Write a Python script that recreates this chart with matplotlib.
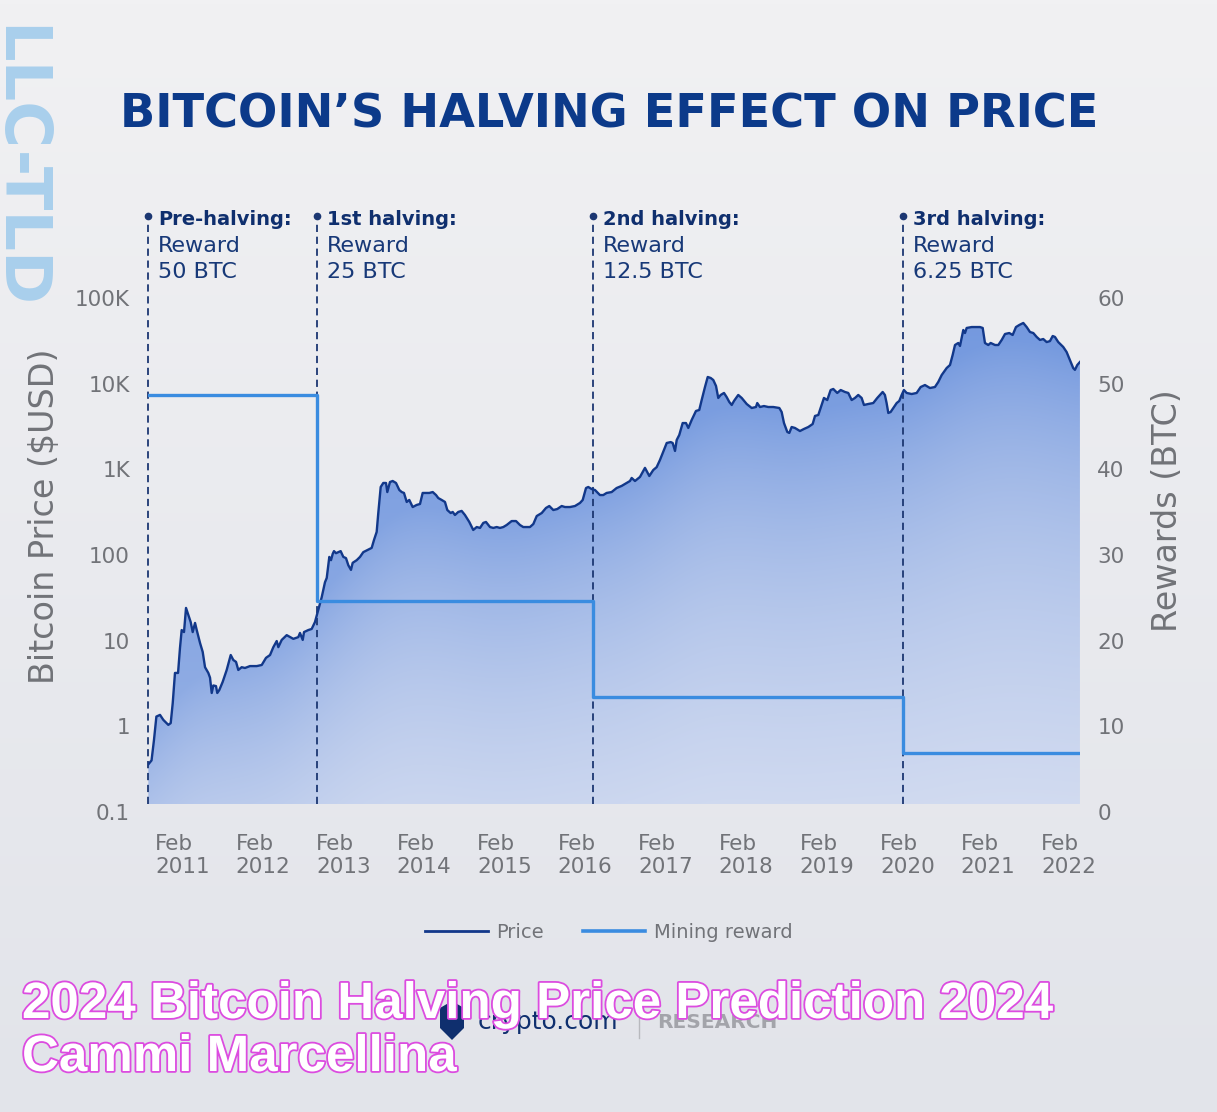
import numpy as np
import matplotlib
matplotlib.use("Agg")
import matplotlib.pyplot as plt
from matplotlib import transforms
from matplotlib.patches import Polygon
from matplotlib.lines import Line2D
from matplotlib.ticker import NullLocator
import matplotlib.patheffects as pe

# ---------------- data ----------------
price_dates = [
    2011.000, 2011.040, 2011.070, 2011.100, 2011.145, 2011.186, 2011.248, 2011.278, 2011.303, 2011.331,
    2011.369, 2011.393, 2011.414, 2011.443, 2011.468, 2011.496, 2011.526, 2011.551, 2011.580, 2011.601,
    2011.642, 2011.675, 2011.704, 2011.745, 2011.766, 2011.787, 2011.807, 2011.840, 2011.856, 2011.881,
    2011.923, 2011.973, 2012.023, 2012.055, 2012.089, 2012.117, 2012.159, 2012.200, 2012.262, 2012.346,
    2012.408, 2012.461, 2012.511, 2012.552, 2012.594, 2012.614, 2012.656, 2012.718, 2012.800, 2012.862,
    2012.883, 2012.917, 2012.933, 2012.986, 2013.028, 2013.069, 2013.110, 2013.152, 2013.193, 2013.215,
    2013.247, 2013.268, 2013.289, 2013.305, 2013.330, 2013.359, 2013.388, 2013.421, 2013.454, 2013.483,
    2013.516, 2013.537, 2013.587, 2013.628, 2013.669, 2013.719, 2013.773, 2013.802, 2013.835, 2013.855,
    2013.885, 2013.917, 2013.951, 2013.967, 2014.000, 2014.034, 2014.075, 2014.116, 2014.146, 2014.174,
    2014.208, 2014.240, 2014.282, 2014.332, 2014.373, 2014.406, 2014.456, 2014.488, 2014.531, 2014.572,
    2014.600, 2014.642, 2014.683, 2014.712, 2014.754, 2014.779, 2014.807, 2014.848, 2014.890, 2014.931,
    2014.985, 2015.034, 2015.077, 2015.118, 2015.159, 2015.192, 2015.242, 2015.283, 2015.325, 2015.366,
    2015.407, 2015.449, 2015.511, 2015.565, 2015.614, 2015.655, 2015.738, 2015.780, 2015.822, 2015.884,
    2015.937, 2015.978, 2016.028, 2016.077, 2016.132, 2016.173, 2016.235, 2016.297, 2016.359, 2016.393,
    2016.434, 2016.462, 2016.504, 2016.545, 2016.607, 2016.648, 2016.690, 2016.752, 2016.814, 2016.876,
    2016.939, 2016.980, 2017.001, 2017.042, 2017.104, 2017.166, 2017.220, 2017.269, 2017.311, 2017.352,
    2017.402, 2017.436, 2017.485, 2017.510, 2017.539, 2017.560, 2017.592, 2017.634, 2017.675, 2017.704,
    2017.746, 2017.799, 2017.840, 2017.870, 2017.911, 2017.945, 2017.982, 2018.014, 2018.048, 2018.076,
    2018.106, 2018.147, 2018.180, 2018.213, 2018.243, 2018.271, 2018.324, 2018.367, 2018.429, 2018.491,
    2018.544, 2018.560, 2018.594, 2018.643, 2018.697, 2018.759, 2018.834, 2018.863, 2018.892, 2018.933,
    2018.958, 2018.987, 2019.028, 2019.090, 2019.140, 2019.194, 2019.248, 2019.277, 2019.318, 2019.360,
    2019.388, 2019.429, 2019.471, 2019.504, 2019.553, 2019.596, 2019.649, 2019.690, 2019.732, 2019.773,
    2019.814, 2019.856, 2019.885, 2019.938, 2020.000, 2020.050, 2020.083, 2020.117, 2020.145, 2020.166,
    2020.187, 2020.216, 2020.249, 2020.291, 2020.323, 2020.353, 2020.381, 2020.415, 2020.477, 2020.539,
    2020.589, 2020.642, 2020.704, 2020.766, 2020.807, 2020.850, 2020.912, 2020.953, 2020.986, 2021.015,
    2021.056, 2021.077, 2021.118, 2021.139, 2021.160, 2021.222, 2021.284, 2021.325, 2021.359, 2021.387,
    2021.428, 2021.458, 2021.512, 2021.553, 2021.595, 2021.636, 2021.689, 2021.731, 2021.772, 2021.813,
    2021.863, 2021.905, 2021.946, 2021.987, 2022.029, 2022.070, 2022.111, 2022.153, 2022.194, 2022.228,
    2022.256, 2022.297, 2022.359, 2022.401, 2022.442, 2022.483, 2022.504, 2022.533, 2022.566,
]
price_usd = [
    0.36, 0.40, 0.69, 1.30, 1.36, 1.19, 1.04, 1.09, 1.87, 4.2,
    4.2, 8.2, 13.3, 12.6, 24.1, 20.0, 16.5, 12.6, 16.1, 13.3,
    9.4, 7.4, 4.9, 4.2, 3.7, 2.45, 3.0, 2.95, 2.45, 2.65,
    3.3, 4.55, 6.8, 5.95, 5.65, 4.55, 4.9, 4.8, 5.05, 5.05,
    5.2, 6.3, 6.8, 8.4, 9.9, 8.4, 10.2, 11.6, 10.5, 11.0,
    12.3, 10.2, 12.6, 13.3, 13.7, 16.5, 22.8, 32, 48, 54,
    95, 87, 103, 111, 105, 108, 111, 95, 92, 76,
    67, 81, 87, 95, 108, 114, 121, 150, 186, 309,
    622, 693, 693, 543, 711, 731, 693, 574, 543, 530,
    416, 439, 363, 384, 394, 530, 530, 530, 543, 501,
    462, 439, 416, 335, 309, 318, 293, 318, 327, 293,
    243, 196, 212, 207, 237, 243, 212, 207, 212, 207,
    212, 224, 249, 249, 224, 212, 212, 230, 285, 309,
    354, 373, 335, 344, 373, 363, 363, 373, 405, 439,
    605, 622, 589, 574, 501, 501, 530, 543, 605, 640,
    693, 731, 793, 731, 815, 1040, 836, 982, 1060, 1285,
    1680, 2030, 2080, 2030, 1640, 2200, 2520, 3470, 3470, 3040,
    3770, 4800, 4930, 6440, 9140, 11970, 11650, 11040, 9400, 6810,
    7380, 7790, 6980, 6110, 5640, 6280, 7380, 6810, 5790, 5200,
    5340, 5940, 5340, 5480, 5340, 5340, 5200, 4670, 3470, 2730,
    2660, 3120, 3040, 2800, 2960, 3120, 3380, 4200, 4310, 5640,
    6810, 6440, 8430, 8670, 7790, 8430, 8000, 7790, 6440, 6810,
    7380, 6810, 5640, 5790, 5940, 6810, 7380, 8000, 7380, 5940,
    4550, 4670, 5200, 5940, 6280, 7380, 8430, 7790, 7570, 7790,
    9140, 9640, 8900, 9140, 10450, 12620, 15240, 16520, 21630, 28270,
    29850, 27540, 42300, 39000, 44700, 45800, 45800, 45800, 44700, 29850,
    28270, 29850, 28270, 28270, 32400, 38000, 39000, 37000, 45800, 48400,
    51100, 45800, 40100, 39000, 35100, 32400, 33200, 30600, 31400, 36000,
    35100, 30600, 26800, 23400, 18900, 15200, 14500, 16500, 17900,
]

halving_dates = [2011.0, 2013.094, 2016.521, 2020.369]
reward_btc = [48.7, 24.6, 13.4, 6.9]
halving_titles = ["Pre-halving:", "1st halving:", "2nd halving:", "3rd halving:"]
halving_rewards = ["50 BTC", "25 BTC", "12.5 BTC", "6.25 BTC"]

tick_years = list(range(2011, 2023))
price_ticks = [0.1, 1, 10, 100, 1000, 10000, 100000]
price_tick_labels = ["0.1", "1", "10", "100", "1K", "10K", "100K"]
reward_ticks = [0, 10, 20, 30, 40, 50, 60]

# ---------------- style ----------------
W, H = 1217, 1112
NAVY = "#12388a"
REWARD = "#3a8ce0"
GRAY = "#717378"
TXT_NAVY = "#0f2f6e"
plt.rcParams["font.family"] = ["DejaVu Sans"]

fig = plt.figure(figsize=(W / 100, H / 100), dpi=100)

# figure background gradient
bg = fig.add_axes([0, 0, 1, 1], zorder=-10)
gv = np.linspace(0, 1, 256)[:, None, None]
top_c = np.array([241, 241, 243]) / 255
bot_c = np.array([226, 228, 234]) / 255
bg.imshow(top_c + (bot_c - top_c) * gv * np.ones((1, 2, 1)), aspect="auto",
          extent=[0, 1, 0, 1], origin="upper")
bg.set_axis_off()

ax = fig.add_axes([148 / W, 1 - 812 / H, (1080 - 148) / W, (812 - 298) / H])
ax.set_facecolor("none")
XMIN, XMAX = 2010.996, 2022.567
YMIN, YMAX = 0.1, 1e5
BASE = 0.124

# gradient fill under the price curve (darker close to the curve, smoothed)
nu, nv = 400, 300
u = np.linspace(0, 1, nu)
v = np.linspace(0, 1, nv)[:, None]
ud = (np.array(price_dates) - XMIN) / (XMAX - XMIN)
vd = (np.log10(price_usd) - np.log10(YMIN)) / (np.log10(YMAX) - np.log10(YMIN))
vline = np.interp(u, ud, vd)
k = np.exp(-0.5 * (np.arange(-45, 46) / 15.0) ** 2)
k /= k.sum()
vpad = np.concatenate([np.full(45, vline[0]), vline, np.full(45, vline[-1])])
vs = np.convolve(vpad, k, mode="valid")[None, :]
d = np.clip(0.35 * v + 0.62 * np.exp(-np.clip(vs - v, 0, None) / 0.33), 0, 1)
light = np.array([214, 222, 241]) / 255
dark = np.array([112, 150, 222]) / 255
rgb = light + (dark - light) * d[..., None]
im = ax.imshow(rgb, extent=[0, 1, 0, 1], transform=ax.transAxes, aspect="auto",
               origin="lower", zorder=1, interpolation="bilinear")

ax.set_yscale("log")
ax.set_xlim(XMIN, XMAX)
ax.set_ylim(YMIN, YMAX)
ax.set_autoscale_on(False)

verts = list(zip(price_dates, price_usd)) + [(price_dates[-1], BASE), (price_dates[0], BASE)]
clip_poly = Polygon(verts, closed=True, transform=ax.transData, facecolor="none", edgecolor="none")
im.set_clip_path(clip_poly)

ax.plot(price_dates, price_usd, color=NAVY, lw=1.7, zorder=4, solid_joinstyle="round")

# halving markers
blend = transforms.blended_transform_factory(ax.transData, ax.transAxes)
for dte, title, rew in zip(halving_dates, halving_titles, halving_rewards):
    ax.plot([dte, dte], [0.0156, 1.150], transform=blend, clip_on=False,
            color="#1c3772", lw=1.3, dashes=(4, 2.6), zorder=3)
    ax.plot([dte], [1.1595], "o", ms=4.5, color="#1c3772", transform=blend, clip_on=False, zorder=3)
    ax.annotate(title, xy=(dte, (812 - 225) / 514), xycoords=blend, xytext=(7.5, 0),
                textcoords="offset points", ha="left", va="baseline", fontsize=14,
                fontweight="bold", color=TXT_NAVY, annotation_clip=False)
    ax.annotate("Reward", xy=(dte, (812 - 251.7) / 514), xycoords=blend, xytext=(7, 0),
                textcoords="offset points", ha="left", va="baseline", fontsize=16,
                color="#183978", annotation_clip=False)
    ax.annotate(rew, xy=(dte, (812 - 278.3) / 514), xycoords=blend, xytext=(7, 0),
                textcoords="offset points", ha="left", va="baseline", fontsize=16,
                color="#183978", annotation_clip=False)

# axes styling
ax.set_xticks([y + 1 / 12 for y in tick_years])
ax.set_xticklabels([f"Feb\n{y}" for y in tick_years])
for lbl in ax.get_xticklabels():
    lbl.set_ha("left")
    lbl.set_multialignment("left")
ax.tick_params(axis="x", length=0, pad=16, labelsize=15.5, labelcolor=GRAY)
ax.set_yticks(price_ticks)
ax.set_yticklabels(price_tick_labels)
ax.yaxis.set_minor_locator(NullLocator())
ax.tick_params(axis="y", which="both", length=0, pad=13, labelsize=15.5, labelcolor=GRAY)
for s in ax.spines.values():
    s.set_visible(False)
ax.set_ylabel("Bitcoin Price ($USD)", fontsize=24, color=GRAY)
ax.yaxis.set_label_coords((45 - 148) / 932, (812 - 516) / 514)
ax.yaxis.label.set_va("center")

ax2 = ax.twinx()
ax2.set_facecolor("none")
ax2.step(halving_dates + [price_dates[-1]], reward_btc + [reward_btc[-1]], where="post",
         color=REWARD, lw=2.4, zorder=5)
ax2.set_ylim(0, 60)
ax2.set_yticks(reward_ticks)
ax2.tick_params(axis="y", length=0, pad=12.5, labelsize=15.5, labelcolor=GRAY)
for s in ax2.spines.values():
    s.set_visible(False)
ax2.set_ylabel("Rewards (BTC)", fontsize=24, color=GRAY)
ax2.yaxis.set_label_coords((1168 - 148) / 932, (812 - 511) / 514)
ax2.yaxis.label.set_va("center")
ax2.set_xlim(XMIN, XMAX)

# title
fig.text(609 / W, 1 - 127 / H, "BITCOIN\u2019S HALVING EFFECT ON PRICE", ha="center",
         va="baseline", fontsize=33.3, fontweight="bold", color="#0c3a8a")

# legend
handles = [Line2D([], [], color=NAVY, lw=2), Line2D([], [], color=REWARD, lw=2.6)]
fig.legend(handles, ["Price", "Mining reward"], loc="center", bbox_to_anchor=(609 / W, 1 - 932 / H),
           ncol=2, frameon=False, fontsize=14, handlelength=3.2, handletextpad=0.45,
           columnspacing=2.0, labelcolor=GRAY)

# watermark
fig.text(48 / W, 1 - 25 / H, "LLC-TLD", rotation=-90, ha="right", va="top", fontsize=46,
         fontweight="bold", color="#a9cfec")

# crypto.com logo
shield = Polygon([(440 / W, 1 - 1008 / H), (452 / W, 1 - 1001 / H), (464 / W, 1 - 1008 / H),
                  (464 / W, 1 - 1028 / H), (452 / W, 1 - 1040 / H), (440 / W, 1 - 1028 / H)],
                 closed=True, transform=fig.transFigure, facecolor="#0f2f6e", edgecolor="none")
fig.add_artist(shield)
fig.text(478 / W, 1 - 1022 / H, "crypto.com", ha="left", va="center", fontsize=18, color="#0f2f6e")
fig.add_artist(Line2D([639 / W, 639 / W], [1 - 1001 / H, 1 - 1038 / H], transform=fig.transFigure,
                      color="#b8b9be", lw=1))
fig.text(657 / W, 1 - 1022 / H, "RESEARCH", ha="left", va="center", fontsize=14.5,
         fontweight="bold", color="#a3a4aa")

# overlay caption
outline = [pe.Stroke(linewidth=2.6, foreground="#dc4ce0"), pe.Normal()]
fig.text(22 / W, 1 - 1018 / H, "2024 Bitcoin Halving Price Prediction 2024", ha="left",
         va="baseline", fontsize=36.8, fontweight="bold", family=["Liberation Sans"],
         color="white", path_effects=outline)
fig.text(22 / W, 1 - 1071 / H, "Cammi Marcellina", ha="left", va="baseline", fontsize=36.8,
         fontweight="bold", family=["Liberation Sans"], color="white", path_effects=outline)

fig.savefig("out.png", dpi=100)
